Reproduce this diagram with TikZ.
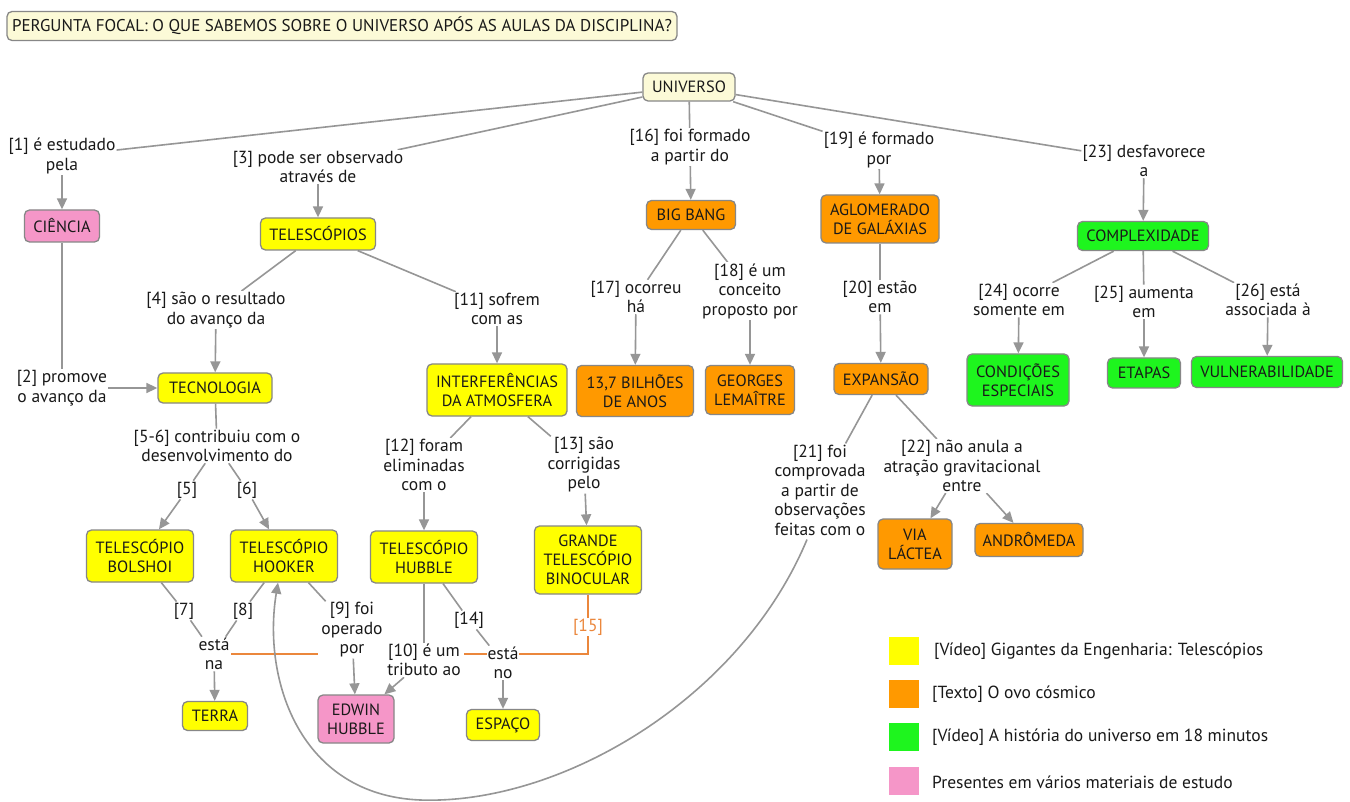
\documentclass[tikz,border=0pt]{standalone}
\usepackage{fontspec}
\setmainfont{PT Sans}
\usetikzlibrary{arrows.meta,calc}
\definecolor{ycol}{RGB}{255,255,0}
\definecolor{ocol}{RGB}{255,153,0}
\definecolor{gcol}{RGB}{30,245,30}
\definecolor{pcol}{RGB}{245,150,200}
\definecolor{ccol}{RGB}{252,250,215}
\definecolor{bordc}{RGB}{135,135,135}
\definecolor{linec}{RGB}{150,150,150}
\definecolor{olinec}{RGB}{235,135,60}
\definecolor{txtc}{RGB}{25,25,25}
\pgfdeclarelayer{bg}
\pgfsetlayers{bg,main}
\tikzset{
  concept/.style={draw=bordc, line width=1.3pt, rounded corners=5pt, align=center, text=txtc, inner sep=2pt,
    font=\fontsize{16.3}{19}\selectfont},
  linkl/.style={fill=white, align=center, text=txtc, inner sep=1pt, font=\fontsize{17.5}{19.5}\selectfont},
  conn/.style={draw=linec, line width=1.6pt},
  arr/.style={conn, -{Triangle[length=11pt,width=10pt]}},
  oline/.style={draw=olinec, line width=1.6pt},
  legsq/.style={minimum width=30pt, minimum height=28pt, inner sep=0pt},
  legtxt/.style={anchor=west, text=txtc, inner sep=0pt, font=\fontsize{17.5}{19.5}\selectfont}
}
\begin{document}
\begin{tikzpicture}[x=1pt,y=-1pt]
\useasboundingbox (0,0) rectangle (1350,802);
% focal question
\node[concept, fill=ccol, minimum width=670pt, minimum height=29pt, font=\fontsize{17}{19}\selectfont] (focal) at (342,26) {PERGUNTA FOCAL: O QUE SABEMOS SOBRE O UNIVERSO APÓS AS AULAS DA DISCIPLINA?};
% concepts
\node[concept, fill=ccol, minimum width=92pt, minimum height=28pt] (univ) at (689,87) {UNIVERSO};
\node[concept, fill=pcol, minimum width=75pt, minimum height=32pt] (ciencia) at (62,226) {CIÊNCIA};
\node[concept, fill=ycol, minimum width=115pt, minimum height=32pt] (telesc) at (318,234) {TELESCÓPIOS};
\node[concept, fill=ocol, minimum width=89pt, minimum height=29pt] (bigbang) at (691,215) {BIG BANG};
\node[concept, fill=ocol, minimum width=118pt, minimum height=48pt] (aglom) at (880,219) {AGLOMERADO\\DE GALÁXIAS};
\node[concept, fill=gcol, minimum width=131pt, minimum height=29pt] (complex) at (1143,236) {COMPLEXIDADE};
\node[concept, fill=ycol, minimum width=114pt, minimum height=30pt] (tecno) at (215,388) {TECNOLOGIA};
\node[concept, fill=ycol, minimum width=140pt, minimum height=52pt] (interf) at (497,390) {INTERFERÊNCIAS\\DA ATMOSFERA};
\node[concept, fill=ocol, minimum width=117pt, minimum height=51pt] (bilhoes) at (635,391) {13,7 BILHÕES\\DE ANOS};
\node[concept, fill=ocol, minimum width=89pt, minimum height=49pt] (georges) at (750,390) {GEORGES\\LEMAÎTRE};
\node[concept, fill=ocol, minimum width=94pt, minimum height=31pt] (expansao) at (881,379) {EXPANSÃO};
\node[concept, fill=gcol, minimum width=102pt, minimum height=52pt] (condicoes) at (1018,380) {CONDIÇÕES\\ESPECIAIS};
\node[concept, fill=gcol, minimum width=73pt, minimum height=30pt] (etapas) at (1144,373) {ETAPAS};
\node[concept, fill=gcol, minimum width=151pt, minimum height=31pt] (vulner) at (1267,372) {VULNERABILIDADE};
\node[concept, fill=ycol, minimum width=107pt, minimum height=52pt] (bolshoi) at (140,556) {TELESCÓPIO\\BOLSHOI};
\node[concept, fill=ycol, minimum width=107pt, minimum height=52pt] (hooker) at (284,556) {TELESCÓPIO\\HOOKER};
\node[concept, fill=ycol, minimum width=107pt, minimum height=52pt] (hubble) at (424,557) {TELESCÓPIO\\HUBBLE};
\node[concept, fill=ycol, minimum width=107pt, minimum height=68pt] (grande) at (588,560) {GRANDE\\TELESCÓPIO\\BINOCULAR};
\node[concept, fill=ocol, minimum width=74pt, minimum height=50pt] (via) at (915,544) {VIA\\LÁCTEA};
\node[concept, fill=ocol, minimum width=108pt, minimum height=33pt] (andro) at (1029,540) {ANDRÔMEDA};
\node[concept, fill=ycol, minimum width=65pt, minimum height=29pt] (terra) at (215,716) {TERRA};
\node[concept, fill=pcol, minimum width=76pt, minimum height=48pt] (edwin) at (356,719) {EDWIN\\HUBBLE};
\node[concept, fill=ycol, minimum width=73pt, minimum height=31pt] (espaco) at (503,725) {ESPAÇO};
% linking phrases
\node[linkl] (l1) at (62,156) {[1] é estudado\\pela};
\node[linkl] (l3) at (318,167) {[3] pode ser observado\\através de};
\node[linkl] (l16) at (690,147) {[16] foi formado\\a partir do};
\node[linkl] (l19) at (879,150) {[19] é formado\\por};
\node[linkl] (l23) at (1144,161) {[23] desfavorece\\a};
\node[linkl] (l4) at (216,310) {[4] são o resultado\\do avanço da};
\node[linkl] (l11) at (497,309) {[11] sofrem\\com as};
\node[linkl] (l17) at (636,297) {[17] ocorreu\\há};
\node[linkl] (l18) at (750,291) {[18] é um\\conceito\\proposto por};
\node[linkl] (l20) at (880,297) {[20] estão\\em};
\node[linkl] (l24) at (1019,300) {[24] ocorre\\somente em};
\node[linkl] (l25) at (1144,302) {[25] aumenta\\em};
\node[linkl] (l26) at (1268,300) {[26] está\\associada à};
\node[linkl] (l2) at (62,388) {[2] promove\\o avanço da};
\node[linkl] (l56) at (217,446) {[5-6] contribuiu com o\\desenvolvimento do};
\node[linkl] (l5) at (187,490) {[5]};
\node[linkl] (l6) at (247,490) {[6]};
\node[linkl] (l12) at (424,465) {[12] foram\\eliminadas\\com o};
\node[linkl] (l13) at (584,465) {[13] são\\corrigidas\\pelo};
\node[linkl] (l7) at (184,611) {[7]};
\node[linkl] (l8) at (243,611) {[8]};
\node[linkl] (estana) at (214,654) {está\\na};
\node[linkl, inner xsep=3pt] (l9) at (352,630) {[9] foi\\operado\\por};
\node[linkl, inner xsep=3pt] (l10) at (424,660) {[10] é um\\tributo ao};
\node[linkl] (l14) at (469,620) {[14]};
\node[linkl] (estano) at (503,663) {está\\no};
\node[linkl, text=olinec] (l15) at (588,627) {[15]};
\node[linkl] (l21) at (820,490) {[21] foi\\comprovada\\a partir de\\observações\\feitas com o};
\node[linkl] (l22) at (962,466) {[22] não anula a\\atração gravitacional\\entre};
% legend
\node[legsq, fill=ycol] (lgy) at (904,651) {};
\node[legsq, fill=ocol] (lgo) at (904,694) {};
\node[legsq, fill=gcol] (lgg) at (904,737) {};
\node[legsq, fill=pcol] (lgp) at (904,781) {};
\node[legtxt] (lty) at (934,651) {[Vídeo] Gigantes da Engenharia: Telescópios};
\node[legtxt] (lto) at (932,694) {[Texto] O ovo cósmico};
\node[legtxt] (ltg) at (932,737) {[Vídeo] A história do universo em 18 minutos};
\node[legtxt] (ltp) at (932,782) {Presentes em vários materiais de estudo};
% connectors
\begin{pgfonlayer}{bg}
\fill[white] (0,0) rectangle (1350,802);
\draw[conn] (univ) -- (l1); \draw[arr] (l1) -- (ciencia);
\draw[conn] (ciencia) -- (l2); \draw[arr] (l2) -- (tecno);
\draw[conn] (univ) -- (l3); \draw[arr] (l3) -- (telesc);
\draw[conn] (telesc) -- (l4); \draw[arr] (l4) -- (tecno);
\draw[conn] (telesc) -- (l11); \draw[arr] (l11) -- (interf);
\draw[conn] (tecno) -- (l56); \draw[conn] (l56) -- (l5); \draw[conn] (l56) -- (l6);
\draw[arr] (l5) -- (bolshoi); \draw[arr] (l6) -- (hooker);
\draw[conn] (bolshoi) -- (l7); \draw[conn] (l7) -- (estana);
\draw[conn] (hooker) -- (l8); \draw[conn] (l8) -- (estana);
\draw[arr] (estana) -- (terra);
\draw[conn] (hooker) -- (l9); \draw[arr] (l9) -- (edwin);
\draw[conn] (hubble) -- (l10); \draw[arr] (l10) -- (edwin);
\draw[conn] (hubble) -- (l14); \draw[conn] (l14) -- (estano); \draw[arr] (estano) -- (espaco);
\draw[conn] (interf) -- (l12); \draw[arr] (l12) -- (hubble);
\draw[conn] (interf) -- (l13); \draw[arr] (l13) -- (grande);
\draw[oline] (grande) -- (l15);
\draw[oline] (l15) |- (estana);
\draw[conn] (univ) -- (l16); \draw[arr] (l16) -- (bigbang);
\draw[conn] (bigbang) -- (l17); \draw[arr] (l17) -- (bilhoes);
\draw[conn] (bigbang) -- (l18); \draw[arr] (l18) -- (georges);
\draw[conn] (univ) -- (l19); \draw[arr] (l19) -- (aglom);
\draw[conn] (aglom) -- (l20); \draw[arr] (l20) -- (expansao);
\draw[conn] (expansao) -- (l21);
\draw[arr] ([xshift=-13pt,yshift=-3pt]l21.south) .. controls (740,700) and (560,805) .. (420,800) .. controls (300,795) and (262,680) .. ([xshift=-6pt]hooker.south);
\draw[conn] (expansao) -- (l22); \draw[arr] (l22) -- (via); \draw[arr] (l22) -- (andro);
\draw[conn] (univ) -- (l23); \draw[arr] (l23) -- (complex);
\draw[conn] (complex) -- (l24); \draw[arr] (l24) -- (condicoes);
\draw[conn] (complex) -- (l25); \draw[arr] (l25) -- (etapas);
\draw[conn] (complex) -- (l26); \draw[arr] (l26) -- (vulner);
\end{pgfonlayer}
\end{tikzpicture}
\end{document}
